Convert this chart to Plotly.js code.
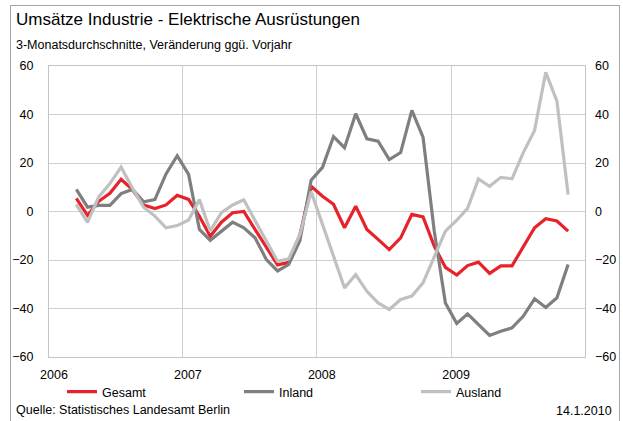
<!DOCTYPE html>
<html>
<head>
<meta charset="utf-8">
<script src="https://cdn.plot.ly/plotly-3.0.1.min.js"></script>
<style>
  html, body { margin: 0; padding: 0; background: #fff; }
  #wrap { position: relative; width: 623px; height: 421px; }
  #chart { position: absolute; left: 0; top: 0; width: 623px; height: 421px; }
  #frame { position: absolute; left: 10px; top: 5px; width: 608px; height: 430px; border: 1px solid #a6a6a6; pointer-events: none; }
</style>
</head>
<body>
<div id="wrap">
  <div id="chart"></div>
  <div id="frame"></div>
</div>
<script>
// Months (3-month averages), March 2006 to November 2009
const months = [
  '2006-03','2006-04','2006-05','2006-06','2006-07','2006-08','2006-09','2006-10','2006-11','2006-12',
  '2007-01','2007-02','2007-03','2007-04','2007-05','2007-06','2007-07','2007-08','2007-09','2007-10','2007-11','2007-12',
  '2008-01','2008-02','2008-03','2008-04','2008-05','2008-06','2008-07','2008-08','2008-09','2008-10','2008-11','2008-12',
  '2009-01','2009-02','2009-03','2009-04','2009-05','2009-06','2009-07','2009-08','2009-09','2009-10','2009-11'
];

const gesamt = [
  5.4, -1.6, 4.2, 7.5, 13.3, 9, 2.7, 1.2, 2.7, 6.7,
  5, -2, -10.2, -4.4, -0.5, 0, -7.4, -14.8, -22, -21, -9.5, 10.4,
  6.3, 3, -6.7, 2.2, -7.4, -11.5, -15.7, -10.9, -1.2, -2.2, -14.3, -23,
  -26.2, -22.3, -20.9, -25.5, -22.4, -22.4, -14.7, -6.7, -3, -3.9, -8.1
];

const inland = [
  9.1, 1.8, 2.5, 2.5, 7.4, 9.1, 4, 4.9, 15.5, 23,
  15.3, -7.4, -11.9, -8.1, -4.4, -6.7, -10.8, -19.8, -24.5, -21.8, -12, 12.9,
  18.2, 30.9, 26.3, 40.3, 30, 29, 21.4, 24.3, 41.7, 30.7, -8, -37.7,
  -46.2, -42.2, -46.6, -51.1, -49.4, -48, -43.2, -36, -39.6, -35.6, -21.9
];

const ausland = [
  2.9, -4.5, 6, 11.5, 18.3, 9.6, 1.8, -1.9, -6.7, -5.8,
  -3.5, 4.9, -8, -0.5, 2.7, 4.8, -3.7, -12.2, -20.5, -19.5, -9.5, 8.2,
  -5.4, -19.1, -31.5, -26, -32.9, -37.7, -40.4, -36.3, -34.9, -29.4, -19.1, -8.1,
  -3.6, 1.3, 13.4, 10.4, 14.1, 13.5, 24.2, 33.4, 57.4, 45.5, 7
];

const seriesNames = ['Gesamt', 'Inland', 'Ausland'];
const yearTicks = ['2006-01-01', '2007-01-01', '2008-01-01', '2009-01-01'];
const yearLabels = ['2006', '2007', '2008', '2009'];
const yTicks = [-60, -40, -20, 0, 20, 40, 60];

const FONT = 'Liberation Sans, Arial, sans-serif';
const colors = ['#e8222a', '#7f7f7f', '#c0c0c0'];
const values = [gesamt, inland, ausland];

const traces = values.map((v, k) => ({
  type: 'scatter',
  mode: 'lines',
  name: seriesNames[k],
  x: months,
  y: v,
  xperiod: 'M1',
  xperiodalignment: 'middle',
  line: { color: colors[k], width: 3.2 }
}));
// right-hand axis companion
traces.push({
  type: 'scatter', mode: 'lines', x: [months[0]], y: [null],
  yaxis: 'y2', showlegend: false, hoverinfo: 'skip'
});

const L = 49, R = 585, T = 66, B = 357;
const W = R - L, H = B - T;
const px = (x) => (x - L) / W;
const py = (y) => (B - y) / H;

const layout = {
  width: 623, height: 421,
  margin: { l: L, r: 623 - R, t: T, b: 421 - B },
  paper_bgcolor: '#ffffff',
  plot_bgcolor: '#ffffff',
  font: { family: FONT, size: 12.5, color: '#000' },
  showlegend: true,
  legend: {
    orientation: 'h',
    x: px(62), xanchor: 'left',
    y: py(392), yanchor: 'middle',
    entrywidth: 132, entrywidthmode: 'pixels',
    tracegroupgap: 0,
    font: { family: FONT, size: 12.5, color: '#000' },
    bgcolor: 'rgba(0,0,0,0)'
  },
  xaxis: {
    type: 'date',
    range: ['2006-01-01', '2010-01-01'],
    tickmode: 'array',
    tickvals: yearTicks,
    ticktext: yearLabels,
    ticks: '',
    ticklabelstandoff: 6,
    ticklabelshift: 5,
    showgrid: true, gridcolor: '#cfcfcf', gridwidth: 1,
    showline: true, linecolor: '#c4c4c4', linewidth: 1, mirror: true,
    zeroline: false,
    tickfont: { family: FONT, size: 12.5, color: '#000' }
  },
  yaxis: {
    range: [-60, 60],
    tickmode: 'array', tickvals: yTicks,
    ticks: '',
    ticklabelstandoff: 12,
    showgrid: true, gridcolor: '#cfcfcf', gridwidth: 1,
    showline: true, linecolor: '#c4c4c4', linewidth: 1, mirror: true,
    zeroline: false,
    tickfont: { family: FONT, size: 12.5, color: '#000' }
  },
  yaxis2: {
    range: [-60, 60],
    overlaying: 'y', side: 'right',
    tickmode: 'array', tickvals: yTicks,
    ticks: '',
    ticklabelstandoff: 9,
    showgrid: false, zeroline: false, showline: false,
    tickfont: { family: FONT, size: 12.5, color: '#000' }
  },
  annotations: [
    { text: 'Umsätze Industrie - Elektrische Ausrüstungen', xref: 'paper', yref: 'paper',
      x: px(14), y: py(20), xanchor: 'left', yanchor: 'middle', showarrow: false,
      font: { family: FONT, size: 17, color: '#000' } },
    { text: '3-Monatsdurchschnitte, Veränderung ggü. Vorjahr', xref: 'paper', yref: 'paper',
      x: px(14), y: py(45), xanchor: 'left', yanchor: 'middle', showarrow: false,
      font: { family: FONT, size: 12.5, color: '#000' } },
    { text: 'Quelle: Statistisches Landesamt Berlin', xref: 'paper', yref: 'paper',
      x: px(14), y: py(410), xanchor: 'left', yanchor: 'middle', showarrow: false,
      font: { family: FONT, size: 12.5, color: '#000' } },
    { text: '14.1.2010', xref: 'paper', yref: 'paper',
      x: px(614), y: py(411), xanchor: 'right', yanchor: 'middle', showarrow: false,
      font: { family: FONT, size: 12.5, color: '#000' } }
  ]
};

Plotly.newPlot('chart', traces, layout, { displayModeBar: false, staticPlot: true });
</script>
</body>
</html>
